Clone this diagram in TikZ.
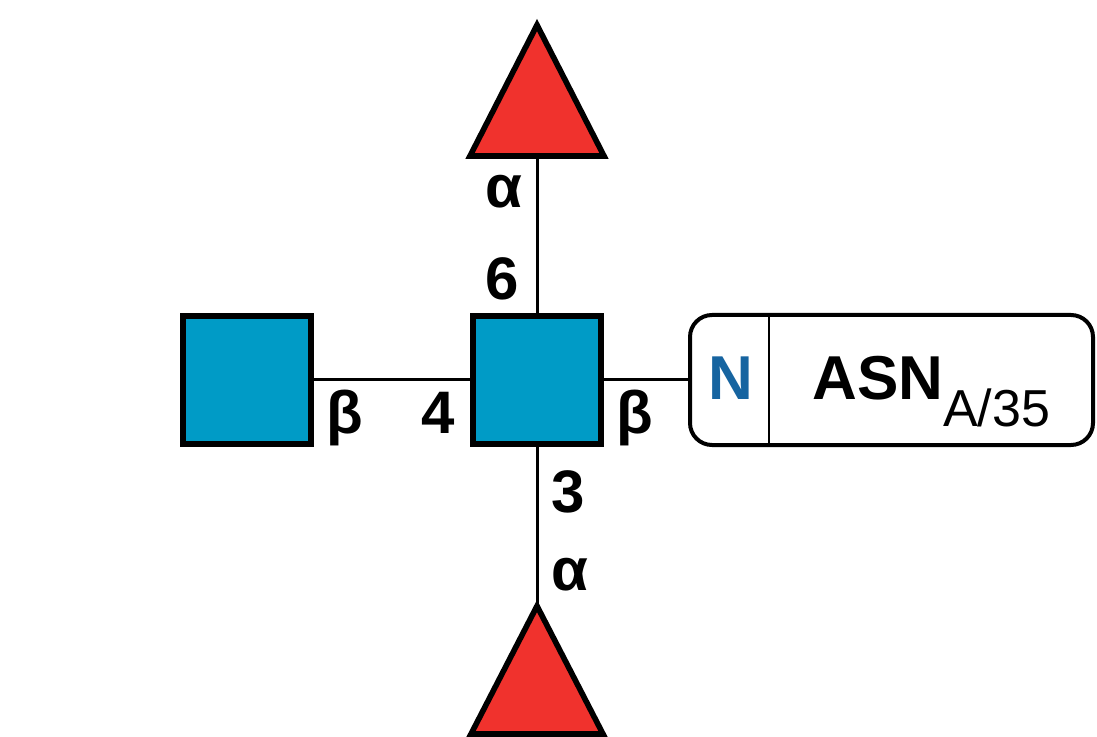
\documentclass[tikz,border=0pt]{standalone}
\usepackage{fontspec}
\setmainfont{Liberation Sans}
\definecolor{sqblue}{RGB}{0,155,198}
\definecolor{trired}{RGB}{240,50,45}
\definecolor{nblue}{RGB}{22,100,160}
\begin{document}
\begin{tikzpicture}[x=0.5pt,y=-0.5pt,
  sq/.style={draw=black,fill=sqblue,line width=2.8pt,minimum size=64.2pt,inner sep=0pt},
  tri/.style={draw=black,fill=trired,line width=2.8pt,line join=miter},
  link/.style={draw=black,line width=1.5pt},
  box/.style={draw=black,fill=white,line width=2pt,rounded corners=11pt,minimum width=201.5pt,minimum height=65pt,inner sep=0pt},
  lbl/.style={font=\bfseries\fontsize{30}{36}\selectfont,inner sep=0pt,anchor=base},
  big/.style={font=\bfseries\fontsize{31}{37}\selectfont,inner sep=0pt}
]
\useasboundingbox (0,0) rectangle (1097,737);
% triangles
\draw[tri] (537,25) -- (604,156) -- (470,156) -- cycle;
\coordinate (ttop) at (537,156);
\draw[tri] (537,606) -- (603,734) -- (471,734) -- cycle;
\coordinate (tbot) at (537,606);
% squares and box
\node[sq] (c) at (537,380) {};
\node[sq] (gl) at (247,380) {};
\node[box] (asn) at (891.5,380) {};
\coordinate (dtop) at (769,315);
\coordinate (dbot) at (769,445);
\draw[line width=1.4pt] (dtop) -- (dbot);
% connectors
\draw[link] (ttop) -- (c.north);
\draw[link] (c.south) -- (tbot);
\draw[link] (gl.east) -- (c.west);
\draw[link] (c.east) -- (asn.west);
% texts
\node[big,text=nblue,anchor=base] (n) at (731,400) {N};
\node[big,anchor=base west] (asntext) at (812,400) {ASN\raisebox{-13.5pt}{\normalfont\fontsize{26}{30}\selectfont A/35}};
% linkage labels
\node[lbl] (a6) at (504,208) {α};
\node[lbl] (p6) at (502,300) {6};
\node[lbl] (p3) at (568,512) {3};
\node[lbl] (a3) at (570,590) {α};
\node[lbl] (b4) at (345,433) {β};
\node[lbl] (p4) at (438,433) {4};
\node[lbl] (b1) at (635,433) {β};
\end{tikzpicture}
\end{document}
